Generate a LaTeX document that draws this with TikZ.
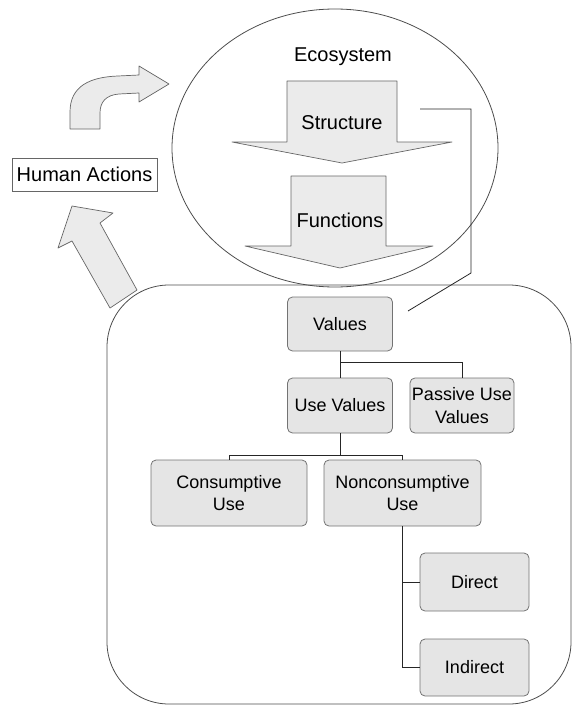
\documentclass[tikz,border=0pt]{standalone}
\usepackage{fontspec}
\setmainfont{Liberation Sans}
\usepackage{tikz}
\usetikzlibrary{
	calc,											% 坐标计算
	positioning,									% 节点的高级摆放
}

\tikzset{
	valbox/.style={draw=black!55, fill=black!10, rounded corners=5pt, line width=0.8pt,
		align=center, inner sep=2pt, font=\fontsize{18}{22.5}\selectfont},
	bigarrow/.style={draw=black!60, fill=black!8, line width=0.7pt, line join=round},
	link/.style={draw=black!85, line width=0.8pt},
	toplabel/.style={font=\fontsize{20}{24}\selectfont},
}

\begin{document}
\begin{tikzpicture}[x=1pt, y=-1pt]
		\useasboundingbox (0,0) rectangle (572,706);
		\draw [black!70, line width=0.8pt, rounded corners=62pt] (107,285) rectangle (571,704);
		\draw [black!70, line width=0.8pt] (335,148) ellipse [x radius=163, y radius=139];
		\draw [bigarrow] (287,81) -- (397,81) -- (397,142) -- (452,142) -- (342,163) -- (232,142) -- (287,142) -- cycle;
		\draw [bigarrow] (291,176) -- (386,176) -- (386,246) -- (433,246) -- (340,268) -- (245,246) -- (291,246) -- cycle;
		\draw [bigarrow] (70,129) -- (70,112) .. controls (70,86) and (90,77) .. (118,76) -- (139,75) -- (139,66) -- (169,84) -- (139,102) -- (139,93) -- (119,94) .. controls (106,95) and (100,102) .. (100,113) -- (100,129) -- cycle;
		\draw [bigarrow] (72,206) -- (113,213) -- (100,223) -- (137,290) -- (110,308) -- (72,241) -- (58,248) -- cycle;
		\node [toplabel] (eco) at (343,57) {Ecosystem};
		\node [toplabel] (struct) at (342,123) {Structure};
		\node [toplabel] (func) at (340,220) {Functions};
		\node [draw=black!60, fill=white, line width=0.7pt, minimum width=145pt, minimum height=33pt, inner sep=1pt, toplabel] (human) at (84.5,174.5) {Human Actions};
		\node [valbox, minimum width=105pt, minimum height=54pt] (values) at (340,324) {Values};
		\node [valbox, minimum width=105pt, minimum height=55pt] (use) at (340,405.5) {Use Values};
		\node [valbox, minimum width=104pt, minimum height=55pt] (passive) at (462,405.5) {Passive Use\\Values};
		\node [valbox, minimum width=156pt, minimum height=66pt] (cons) at (229,493) {Consumptive\\Use};
		\node [valbox, minimum width=157pt, minimum height=66pt] (noncons) at (402.5,493) {Nonconsumptive\\Use};
		\node [valbox, minimum width=109pt, minimum height=58pt] (direct) at (474.5,582) {Direct};
		\node [valbox, minimum width=109pt, minimum height=57pt] (indirect) at (474.5,667.5) {Indirect};
		\coordinate (s1) at (420,109);
		\coordinate (s2) at (471,273);
		\coordinate (s3) at (408,311);
		\draw [link] (s1) -| (s2) -- (s3);
		\draw [link] (values.south) -- (use.north);
		\draw [link] (values.south) -- ++(0,11) -| (passive.north);
		\draw [link] (use.south) -- ++(0,22) coordinate (u1);
		\draw [link] (cons.north) |- (u1) -| (noncons.north);
		\draw [link] (noncons.south) |- (indirect.west);
		\draw [link] (noncons.south |- direct.west) -- (direct.west);
	\end{tikzpicture}
\end{document}
